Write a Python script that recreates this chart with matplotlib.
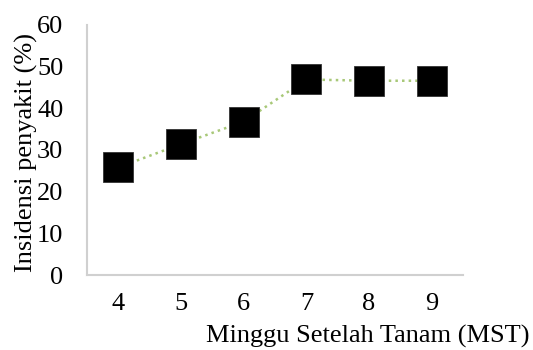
import matplotlib
matplotlib.use("Agg")
import matplotlib.pyplot as plt

weeks = ["4", "5", "6", "7", "8", "9"]
incidence = [25.8, 31.4, 36.8, 46.9, 46.6, 46.6]

plt.rcParams['font.family'] = ['Liberation Serif', 'DejaVu Serif']

fig = plt.figure(figsize=(5.33, 3.5), dpi=100)
ax = fig.add_axes([0.163, 0.214, 0.706, 0.715])

x = list(range(len(weeks)))
ax.plot(x, incidence, linestyle=':', color='#a8c878', linewidth=1.8,
        marker='s', markersize=22, markerfacecolor='black',
        markeredgecolor='#333333', markeredgewidth=0.6, zorder=3)

ax.set_xlim(-0.5, len(weeks) - 0.5)
ax.set_ylim(0, 60)
ax.set_yticks(range(0, 61, 10))
ax.set_xticks(x)
ax.set_xticklabels(weeks)

for s in ['top', 'right']:
    ax.spines[s].set_visible(False)
for s in ['left', 'bottom']:
    ax.spines[s].set_color('#d0d0d0')
    ax.spines[s].set_linewidth(1.5)

fs = 19
ax.tick_params(axis='both', length=0, labelsize=fs, colors='black')
ax.tick_params(axis='y', pad=17)
ax.tick_params(axis='x', pad=13)

fig.text(26 / 533, 1 - 153 / 350, 'Insidensi penyakit (%)', fontsize=fs,
         rotation=90, ha='center', va='center')
fig.text(529 / 533, 1 - 343 / 350, 'Minggu Setelah Tanam (MST)', fontsize=fs,
         ha='right', va='baseline')

fig.savefig('out.png', dpi=100)
